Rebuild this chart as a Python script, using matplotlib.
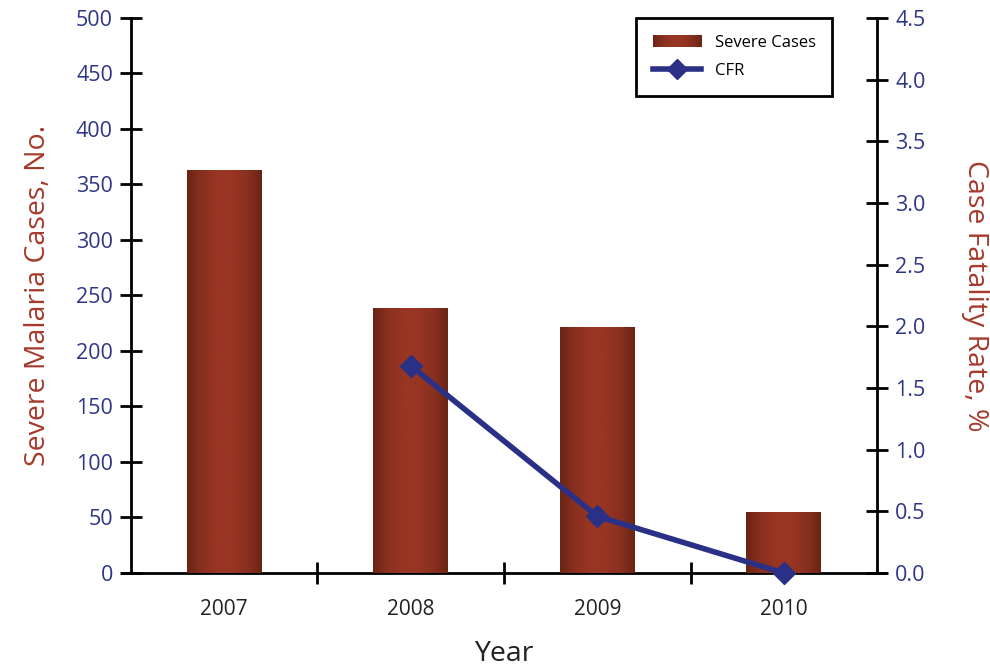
import numpy as np
import matplotlib
matplotlib.use("Agg")
import matplotlib.pyplot as plt
from matplotlib.colors import LinearSegmentedColormap
from matplotlib.patches import Rectangle
from matplotlib.legend_handler import HandlerBase
from matplotlib.lines import Line2D

plt.rcParams['font.family'] = ['Open Sans', 'DejaVu Sans']

years = ["2007", "2008", "2009", "2010"]
severe_cases = [363, 239, 222, 55]
cfr_years = [1, 2, 3]
cfr = [1.68, 0.46, 0.0]
left_ticks = [0, 50, 100, 150, 200, 250, 300, 350, 400, 450, 500]
right_ticks = [0.0, 0.5, 1.0, 1.5, 2.0, 2.5, 3.0, 3.5, 4.0, 4.5]

TICK_COLOR = "#2E3686"
LABEL_COLOR = "#A43A2B"
LINE_COLOR = "#2B3087"
edge_c, mid_c = "#6A2514", "#983523"
cmap = LinearSegmentedColormap.from_list("bar", [edge_c, "#8A3020", mid_c, mid_c, "#8A3020", edge_c])

fig = plt.figure(figsize=(9.9, 6.69), dpi=100)
ax = fig.add_axes([0.1323, 0.1435, 0.8859 - 0.1323, 0.9731 - 0.1435])
ax2 = ax.twinx()

x = np.arange(len(years))
bars = ax.bar(x, severe_cases, width=0.4, color=mid_c, zorder=2)
grad = np.linspace(0, 1, 256).reshape(1, -1)
for b in bars:
    bx, by = b.get_x(), b.get_y()
    w, h = b.get_width(), b.get_height()
    im = ax.imshow(grad, cmap=cmap, extent=[bx, bx + w, by, by + h], aspect='auto', zorder=3)
    im.set_clip_path(b)
ax.set_xlim(-0.5, 3.5)
ax.set_ylim(0, 500)
ax.set_yticks(left_ticks)
ax.set_xticks(x)
ax.set_xticklabels(years)
ax.set_xticks([0.5, 1.5, 2.5], minor=True)

ax2.plot(cfr_years, cfr, color=LINE_COLOR, lw=4, marker='D', markersize=11, zorder=5, clip_on=False,
         solid_capstyle='round')
ax2.set_ylim(0, 4.5)
ax2.set_yticks(right_ticks)
ax2.set_yticklabels([f"{v:.1f}" for v in right_ticks])

for a in (ax, ax2):
    a.spines['top'].set_visible(False)
    for s in a.spines.values():
        s.set_linewidth(2)
ax2.spines['left'].set_visible(False)
ax2.spines['bottom'].set_visible(False)
ax.spines['right'].set_visible(False)
ax.spines['bottom'].set_bounds(-0.55, 3.54)

ax.tick_params(axis='y', direction='inout', length=16, width=2, labelsize=15.5, labelcolor=TICK_COLOR, pad=5)
ax2.tick_params(axis='y', direction='inout', length=16, width=2, labelsize=15.5, labelcolor=TICK_COLOR, pad=5)
ax.tick_params(axis='x', which='major', length=0, labelsize=15, labelcolor="#222222", pad=19)
ax.tick_params(axis='x', which='minor', direction='inout', length=16, width=2)

ax.set_ylabel("Severe Malaria Cases, No.", fontsize=20.5, color=LABEL_COLOR, labelpad=17)
ax2.set_ylabel("Case Fatality Rate, %", fontsize=20.5, color=LABEL_COLOR, rotation=270, labelpad=46)
ax.set_xlabel("Year", fontsize=20.5, color="#222222", labelpad=14)


class GradHandler(HandlerBase):
    def create_artists(self, legend, orig_handle, xdescent, ydescent, width, height, fontsize, trans):
        arts = []
        n = 30
        for i in range(n):
            r = Rectangle((-xdescent + width * i / n, -ydescent), width / n + 0.3, height,
                          facecolor=cmap((i + 0.5) / n), edgecolor='none', transform=trans)
            arts.append(r)
        return arts


proxy_bar = Rectangle((0, 0), 1, 1)
proxy_line = Line2D([], [], color=LINE_COLOR, lw=4, marker='D', markersize=10)
leg = ax2.legend([proxy_bar, proxy_line], ["Severe Cases", "CFR"],
                 handler_map={Rectangle: GradHandler()},
                 loc='upper right', bbox_to_anchor=(0.94, 1.0), borderaxespad=0, fontsize=12,
                 fancybox=False, framealpha=1, edgecolor='black', handlelength=2.9,
                 borderpad=1.0, labelspacing=0.75)
leg.get_frame().set_linewidth(2)

fig.savefig("out.png", dpi=100)
